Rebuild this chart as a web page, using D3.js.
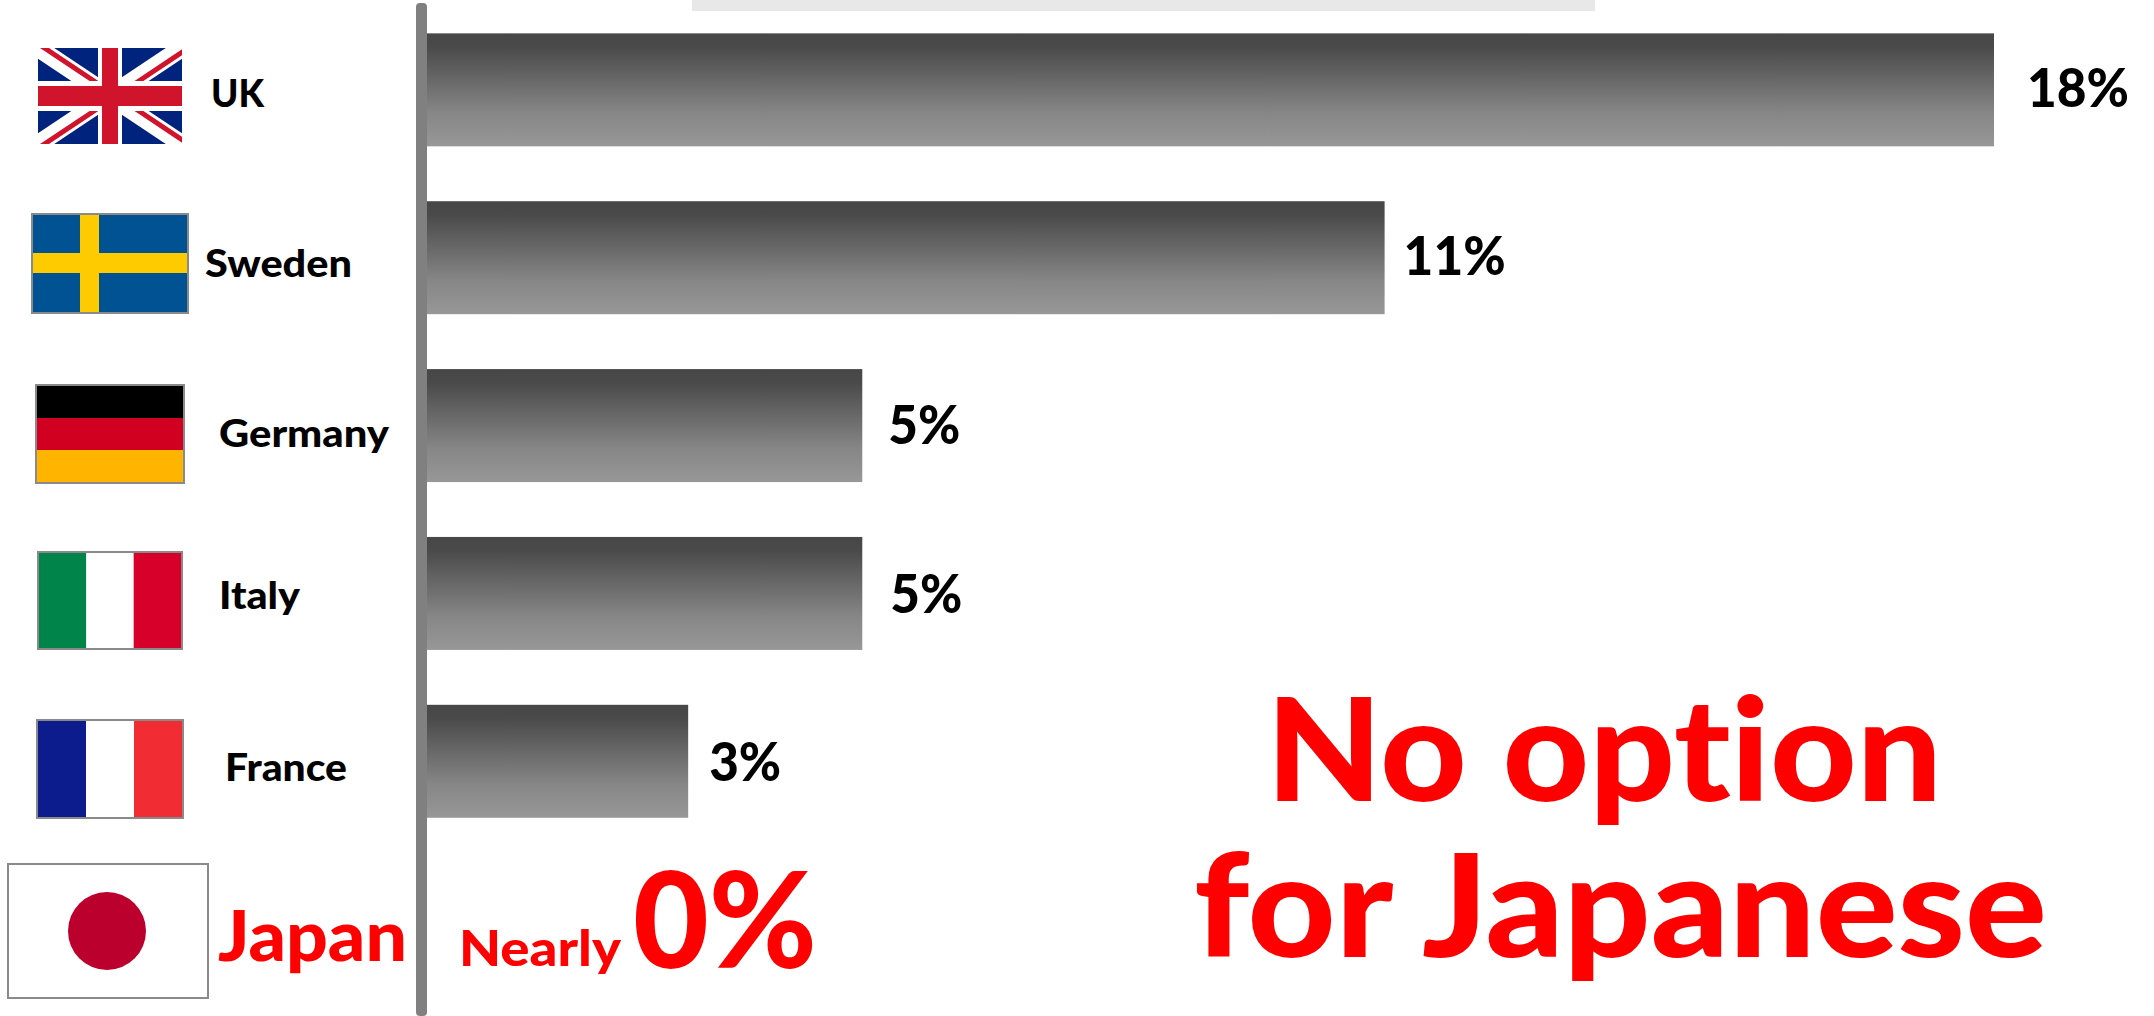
<!DOCTYPE html>
<html>
<head>
<meta charset="utf-8">
<script src="https://cdn.jsdelivr.net/npm/d3@7"></script>
<style>
  html, body { margin: 0; padding: 0; background: #fff; overflow: hidden; }
  text { font-family: Lato, "Noto Sans", sans-serif; font-weight: 900; font-variant-ligatures: none; }
</style>
</head>
<body>
<svg id="chart" width="2154" height="1016"></svg>
<script>
// Share of respondents per country
const countries = ["UK", "Sweden", "Germany", "Italy", "France", "Japan"];
const shares = [18, 11, 5, 5, 3, 0];
const shareLabels = ["18%", "11%", "5%", "5%", "3%", "0%"];
const calloutLines = ["No option", "for Japanese"];

const svg = d3.select("#chart");
const axisX = 427;

const x = d3.scaleLinear().domain([0, 18]).range([axisX, 1994]);
const y = d3.scaleBand().domain(countries).range([6, 1013]).paddingInner(0.327).paddingOuter(0.163);

const grad = svg.append("defs").append("linearGradient")
  .attr("id", "barFill").attr("x1", 0).attr("y1", 0).attr("x2", 0).attr("y2", 1);
grad.append("stop").attr("offset", "0%").attr("stop-color", "#474747");
grad.append("stop").attr("offset", "12%").attr("stop-color", "#4a4a4a");
grad.append("stop").attr("offset", "70%").attr("stop-color", "#868686");
grad.append("stop").attr("offset", "100%").attr("stop-color", "#979797");

// Writes a label stretched to a fixed advance width
function label(sel, size, width, fill) {
  return sel.attr("font-size", size)
    .attr("textLength", width)
    .attr("lengthAdjust", "spacingAndGlyphs")
    .attr("fill", fill);
}

// Pale strip along the top edge
svg.append("rect").attr("x", 692).attr("y", 0).attr("width", 903).attr("height", 11).attr("fill", "#e8e8e8");

// Bars, leaving out the zero-length Japan row
svg.selectAll("rect.bar")
  .data(countries.map((c, i) => ({ c, v: shares[i] })).filter(d => d.v > 0))
  .join("rect")
  .attr("class", "bar")
  .attr("x", x(0))
  .attr("y", d => y(d.c))
  .attr("width", d => x(d.v) - x(0))
  .attr("height", y.bandwidth())
  .attr("fill", "url(#barFill)");

// Vertical baseline
svg.append("rect").attr("x", 416).attr("y", 3).attr("width", 11).attr("height", 1013)
  .attr("rx", 4).attr("fill", "#808080");

// Value labels
const valueGap = { UK: 33, Sweden: 19, Germany: 26, Italy: 28, France: 21 };
const valueBaseline = { UK: 107, Sweden: 275, Germany: 444, Italy: 613, France: 781 };
const valueWidth = { UK: 102, Sweden: 102, Germany: 72, Italy: 72, France: 72 };
svg.selectAll("text.value")
  .data(countries.slice(0, 5))
  .join("text")
  .attr("class", "value")
  .attr("x", d => x(shares[countries.indexOf(d)]) + valueGap[d])
  .attr("y", d => valueBaseline[d])
  .call(s => s.attr("font-size", 53).attr("fill", "#000"))
  .attr("textLength", d => valueWidth[d])
  .attr("lengthAdjust", "spacingAndGlyphs")
  .text(d => shareLabels[countries.indexOf(d)]);

// Country names
const nameX = { UK: 211, Sweden: 205, Germany: 219, Italy: 219, France: 225, Japan: 218 };
const nameBaseline = { UK: 107, Sweden: 277, Germany: 447, Italy: 609, France: 781, Japan: 961 };
const nameWidth = { UK: 53, Sweden: 147, Germany: 170, Italy: 81, France: 122, Japan: 189 };
svg.selectAll("text.name")
  .data(countries)
  .join("text")
  .attr("class", "name")
  .attr("x", d => nameX[d])
  .attr("y", d => nameBaseline[d])
  .attr("font-size", d => d === "Japan" ? 70 : 38)
  .attr("fill", d => d === "Japan" ? "#ff0000" : "#000")
  .attr("textLength", d => nameWidth[d])
  .attr("lengthAdjust", "spacingAndGlyphs")
  .text(d => d);

// Japan annotation
svg.append("text").attr("x", 459).attr("y", 966).call(label, 50, 162, "#ff0000").text("Nearly");
svg.append("text").attr("x", 633).attr("y", 968).call(label, 133, 184, "#ff0000").text(shareLabels[5]);

// Large callout
const calloutX = [1266, 1194];
const calloutBaseline = [801, 957];
const calloutWidth = [676, 853];
svg.selectAll("text.callout")
  .data(calloutLines)
  .join("text")
  .attr("class", "callout")
  .attr("x", (d, i) => calloutX[i])
  .attr("y", (d, i) => calloutBaseline[i])
  .attr("font-size", 143)
  .attr("fill", "#ff0000")
  .attr("textLength", (d, i) => calloutWidth[i])
  .attr("lengthAdjust", "spacingAndGlyphs")
  .text(d => d);

// Flags
function frame(box, stroke) {
  const g = svg.append("g").attr("transform", `translate(${box.x},${box.y})`);
  if (stroke) g.append("rect").attr("x", -1).attr("y", -1).attr("width", box.w + 2).attr("height", box.h + 2)
    .attr("fill", "#fff").attr("stroke", "#8a8a8a").attr("stroke-width", 2);
  return g;
}

// Vertical or horizontal tricolours
function tricolour(box, colours, horizontal) {
  const g = frame(box, true);
  const band = d3.scaleBand().domain(d3.range(3)).range([0, horizontal ? box.h : box.w]);
  colours.forEach((c, i) => {
    g.append("rect")
      .attr("x", horizontal ? 0 : band(i)).attr("y", horizontal ? band(i) : 0)
      .attr("width", horizontal ? box.w : band.bandwidth())
      .attr("height", horizontal ? band.bandwidth() : box.h)
      .attr("fill", c);
  });
}

// UK
(function () {
  const w = 144, h = 96;
  const g = frame({ x: 38, y: 48, w, h }, false);
  const defs = svg.select("defs");
  defs.append("clipPath").attr("id", "ukClip").append("rect").attr("width", w).attr("height", h);
  const c = g.append("g").attr("clip-path", "url(#ukClip)");
  c.append("rect").attr("width", w).attr("height", h).attr("fill", "#00247d");
  c.append("path").attr("d", `M0,0L${w},${h}M${w},0L0,${h}`).attr("stroke", "#fff").attr("stroke-width", 18);
  c.append("path").attr("d", `M0,0L${w / 2},${h / 2}M${w},${h}L${w / 2},${h / 2}`)
    .attr("stroke", "#cf142b").attr("stroke-width", 5).attr("transform", "translate(2,-3)");
  c.append("path").attr("d", `M${w},0L${w / 2},${h / 2}M0,${h}L${w / 2},${h / 2}`)
    .attr("stroke", "#cf142b").attr("stroke-width", 5).attr("transform", "translate(2,3)");
  c.append("rect").attr("x", w / 2 - 12).attr("width", 24).attr("height", h).attr("fill", "#fff");
  c.append("rect").attr("y", h / 2 - 15).attr("width", w).attr("height", 30).attr("fill", "#fff");
  c.append("rect").attr("x", w / 2 - 8).attr("width", 16).attr("height", h).attr("fill", "#cf142b");
  c.append("rect").attr("y", h / 2 - 10).attr("width", w).attr("height", 20).attr("fill", "#cf142b");
})();

// Sweden
(function () {
  const w = 154, h = 97;
  const g = frame({ x: 33, y: 215, w, h }, true);
  g.append("rect").attr("width", w).attr("height", h).attr("fill", "#005293");
  g.append("rect").attr("x", 47).attr("width", 19).attr("height", h).attr("fill", "#fecb00");
  g.append("rect").attr("y", 38).attr("width", w).attr("height", 20).attr("fill", "#fecb00");
})();

tricolour({ x: 37, y: 386, w: 146, h: 96 }, ["#000000", "#d20020", "#ffb400"], true);
tricolour({ x: 39, y: 553, w: 142, h: 95 }, ["#00844a", "#ffffff", "#d6002a"], false);
tricolour({ x: 38, y: 721, w: 144, h: 96 }, ["#0c1c8c", "#ffffff", "#f12d33"], false);

// Japan
(function () {
  const g = frame({ x: 9, y: 865, w: 198, h: 132 }, true);
  g.append("circle").attr("cx", 98).attr("cy", 66).attr("r", 39).attr("fill", "#bc002d");
})();
</script>
</body>
</html>
